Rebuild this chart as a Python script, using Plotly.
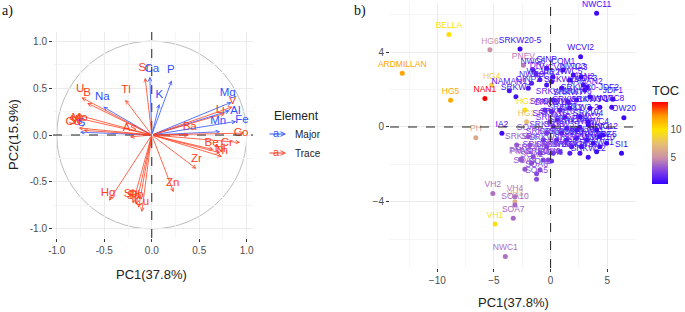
import plotly.graph_objects as go

# ---------------- Panel a: variable loadings ----------------
major_el = ["Ca", "P", "K", "Na", "Mg", "Al", "Fe", "Mn", "S"]
major_pc1 = [-0.02, 0.21, 0.08, -0.51, 0.84, 0.82, 0.89, 0.72, -0.755]
major_pc2 = [0.62, 0.58, 0.33, 0.30, 0.35, 0.26, 0.145, 0.035, 0.03]
major_lab_x = [0.00, 0.20, 0.08, -0.52, 0.80, 0.88, 0.95, 0.70, -0.74]
major_lab_y = [0.70, 0.69, 0.43, 0.40, 0.45, 0.25, 0.155, 0.145, 0.13]

trace_el = ["Sr", "Tl", "U", "B", "Mo", "Cd", "Se", "W", "As", "Li", "V", "Ba", "Co", "Cr",
            "Be", "Ni", "Th", "Zr", "Zn", "Hg", "Sb", "Pb", "Sn", "Cu"]
trace_pc1 = [-0.07, -0.28, -0.74, -0.68, -0.79, -0.82, -0.77, -0.72, -0.23, 0.77, 0.85, 0.39, 0.97, 0.93,
             0.65, 0.72, 0.74, 0.47, 0.23, -0.45, -0.20, -0.165, -0.14, -0.105]
trace_pc2 = [0.61, 0.375, 0.40, 0.34, 0.215, 0.19, 0.075, 0.05, -0.02, 0.23, 0.30, 0.0, 0.02, -0.08,
             -0.155, -0.19, -0.23, -0.36, -0.61, -0.70, -0.73, -0.74, -0.775, -0.82]
trace_lab_x = [-0.08, -0.27, -0.755, -0.68, -0.76, -0.83, -0.80, -0.79, -0.235, 0.72, 0.85, 0.40, 0.94, 0.79,
               0.63, 0.72, 0.73, 0.47, 0.22, -0.46, -0.22, -0.16, -0.19, -0.105]
trace_lab_y = [0.71, 0.48, 0.49, 0.45, 0.18, 0.14, 0.15, 0.16, 0.07, 0.26, 0.36, 0.08, 0.02, -0.09,
               -0.09, -0.155, -0.17, -0.26, -0.51, -0.62, -0.63, -0.64, -0.65, -0.72]

# ---------------- Panel b: individuals ----------------
site = ["NWC11", "BELLA", "HG6", "SRKW20-5", "WCVI2", "ARDMILLAN", "PNEV", "GINP", "COM1",
        "NWC6", "HG4", "NAMAN1", "SRKW3", "HG5", "NAN1", "HG2", "HG1", "IA2", "PH",
        "JDF1", "NWC8", "OW20", "SI1", "VH2", "VH4", "VH3", "SOA10", "SOA7", "VH1", "NWC1",
        "PMV1", "SOA4", "SOA5", "SOA6", "SRKV", "SRK", "SOA8",
        "GINP2", "NWC9", "DR", "WCVI3", "FCA", "PR2", "WCVI1", "SRKW19", "NWC5", "NWC3", "IA3",
        "NAN2", "NAMAN2", "JDF3", "SRKW20-JDF2", "SRKW7", "SRKW8", "SRKW3-1", "SRKW3-2", "SRKW4",
        "NWC7", "SRKW13", "SRKW9", "SRKW10", "SRKW11", "SRKW12", "SRKW14", "SRKW15", "SRKW16",
        "SRKW17", "SRKW18", "PR1", "NWC2", "NWC4", "JDF4", "JDF5", "SRKW21", "SRKW22", "SRKW23",
        "SRKW24", "SRKW25", "SOA3", "SRKW26", "SRKW27", "SRKW28", "SRKW29", "SRKW30", "SRKW31",
        "SRKW32", "SRKW33", "SRKW34", "SRKW35", "SRKW36", "SRKW37", "NWC10", "NWC12", "SRKW38",
        "SOA9", "SOA2", "SOA1", "PMV2", "SRKW39", "SRKW40", "SRKW41"]
pc1 = [4.06, -8.98, -5.36, -2.7, 2.65, -13.1, -2.4, -0.35, 1.1,
       -1.56, -5.2, -3.65, -3.06, -8.83, -5.8, -2.27, -2.12, -4.3, -6.6,
       5.5, 5.4, 6.47, 6.26, -5.1, -3.15, -3.15, -3.15, -3.3, -4.9, -4.0,
       -2.65, -0.21, -1.24, -1.24, -3.0, -1.83, -1.98,
       -1.98, -1.68, -1.3, -0.94, -0.35, 0.09, 0.2, 0.97, 1.7, 2.0, 2.7,
       2.88, 3.03, 3.23, 3.47, 1.55, 2.29, 3.47, 2.59, 3.32,
       4.35, 0.23, -0.5, 0.09, 0.82, 1.26, 1.7, -0.06, 0.58,
       0.23, 1.41, 2.59, 3.32, 4.06, 4.35, 4.94, 4.06, 3.32, 2.59,
       1.7, 0.82, 0.09, 0.23, -0.35, 0.53, 1.41, 2.29, 3.18,
       3.76, 1.85, 2.73, 0.97, -0.35, -0.65, 4.35, 4.64, 2.29,
       -2.27, -0.94, -1.68, -2.56, -0.94, -0.65, -1.53]
pc2 = [6.08, 4.94, 4.13, 4.17, 3.76, 2.87, 3.3, 3.14, 3.05,
       3.05, 2.25, 1.94, 1.62, 1.43, 1.53, 0.91, 0.28, -0.34, -0.57,
       1.48, 1.05, 0.5, -1.41, -3.55, -3.73, -4.0, -4.17, -4.88, -5.19, -6.93,
       -1.73, -1.76, -2.8, -2.5, -0.96, -0.96, -0.52,
       2.07, 2.34, 2.83, 2.52, 2.25, 2.42, 2.69, 2.07, 2.51, 2.78, 2.69,
       2.25, 1.98, 2.12, 1.62, 1.35, 1.44, 1.0, 0.55, 0.28,
       1.05, 1.44, 0.91, 0.82, 0.91, 0.55, 1.0, 0.28, 0.37,
       0.02, -0.07, -0.02, 0.11, -0.16, -0.52, -0.87, -1.32, -1.62, -1.41,
       -1.41, -1.32, -1.82, -1.41, -1.05, -0.7, -0.7, -0.61, -0.7,
       -0.87, -1.05, -1.05, -0.34, -0.34, -0.7, -1.05, -0.43, -0.16,
       -2.26, -2.3, -1.94, -1.76, -1.41, -1.76, -1.59]
toc = [0.6, 10.2, 5.0, 0.7, 0.8, 12.2, 4.3, 0.9, 0.8,
       1.5, 8.5, 1.0, 0.9, 12.0, 15.0, 9.8, 7.5, 0.6, 6.2,
       0.7, 0.8, 0.6, 0.5, 4.0, 4.2, 6.5, 3.8, 3.8, 9.6, 4.0,
       3.5, 2.5, 3.0, 2.8, 3.5, 3.2, 3.0,
       1.2, 1.5, 1.6, 1.3, 1.0, 0.9, 1.1, 0.8, 0.7, 0.8, 0.6,
       0.9, 0.8, 0.7, 0.7, 1.0, 0.9, 0.6, 0.7, 0.6,
       0.7, 1.4, 1.8, 1.6, 1.2, 1.0, 1.1, 2.0, 1.5,
       1.8, 1.2, 0.9, 0.8, 0.6, 0.7, 0.5, 0.7, 0.8, 1.0,
       1.3, 1.6, 2.0, 1.8, 2.3, 1.7, 1.4, 1.1, 0.9,
       0.8, 1.3, 1.0, 1.5, 2.2, 2.4, 0.7, 0.6, 1.1,
       3.2, 2.8, 3.0, 3.3, 2.6, 2.5, 2.9]
toc_ticks = [5, 10]

TOC_MIN, TOC_MAX = 0.3, 15.0
colorscale = [[0.0, "#3300FF"], [0.15, "#7F3FE6"], [0.32, "#CC90A8"], [0.49, "#E6C070"],
              [0.66, "#FFE500"], [0.83, "#FF9A00"], [1.0, "#FF0000"]]

BLUE = "#3050FF"
RED = "#FF4020"


def hex2rgb(h):
    h = h.lstrip("#")
    return tuple(int(h[i:i + 2], 16) for i in (0, 2, 4))


def scale_color(v):
    t = (v - TOC_MIN) / (TOC_MAX - TOC_MIN)
    t = min(max(t, 0.0), 1.0)
    for (p0, c0), (p1, c1) in zip(colorscale[:-1], colorscale[1:]):
        if p0 <= t <= p1:
            f = (t - p0) / (p1 - p0) if p1 > p0 else 0
            a, b = hex2rgb(c0), hex2rgb(c1)
            r = [round(a[i] + (b[i] - a[i]) * f) for i in range(3)]
            return "rgb(%d,%d,%d)" % tuple(r)
    return colorscale[-1][1]


W, H = 685, 312
fig = go.Figure()

# panel a text labels
fig.add_trace(go.Scatter(x=trace_lab_x, y=trace_lab_y, text=trace_el, mode="text",
                         textfont=dict(color=RED, size=11.5, family="Liberation Sans"),
                         showlegend=False, hoverinfo="skip", xaxis="x", yaxis="y"))
fig.add_trace(go.Scatter(x=major_lab_x, y=major_lab_y, text=major_el, mode="text",
                         textfont=dict(color=BLUE, size=11.5, family="Liberation Sans"),
                         showlegend=False, hoverinfo="skip", xaxis="x", yaxis="y"))

# panel b points
txt_colors = [scale_color(v) for v in toc]
fig.add_trace(go.Scatter(
    x=pc1, y=pc2, text=site, mode="markers+text", textposition="top center", cliponaxis=False,
    textfont=dict(color=txt_colors, size=8.5, family="Liberation Sans"),
    marker=dict(size=5, color=toc, colorscale=colorscale, cmin=TOC_MIN, cmax=TOC_MAX,
                line=dict(width=0),
                colorbar=dict(title=dict(text="TOC", side="top",
                                         font=dict(size=13, color="#222", family="Liberation Sans")),
                              x=652 / W, xanchor="left", y=(H - 184) / H, yanchor="bottom",
                              len=(184 - 82) / H, lenmode="fraction", thickness=16, xpad=0, ypad=0,
                              tickvals=toc_ticks, ticktext=[str(t) for t in toc_ticks],
                              ticks="", outlinewidth=0,
                              tickfont=dict(size=10, color="#4D4D4D", family="Liberation Sans"))),
    showlegend=False, hoverinfo="skip", xaxis="x2", yaxis="y2"))

annotations = []
# arrows panel a
for xs, ys, col in [(major_pc1, major_pc2, BLUE), (trace_pc1, trace_pc2, RED)]:
    for x, y in zip(xs, ys):
        annotations.append(dict(x=x, y=y, ax=0, ay=0, xref="x", yref="y", axref="x", ayref="y",
                                showarrow=True, arrowhead=5, arrowsize=0.9, arrowwidth=0.8,
                                arrowcolor=col, text=""))

# legend for panel a
annotations.append(dict(x=272 / W, y=(H - 116) / H, xref="paper", yref="paper", text="Element",
                        showarrow=False, xanchor="left", yanchor="middle",
                        font=dict(size=12, color="#222", family="Liberation Sans")))
for ypx, col, lab in [(134, BLUE, "Major"), (153, RED, "Trace")]:
    annotations.append(dict(x=286 / W, y=(H - ypx) / H, xref="paper", yref="paper",
                            ax=-18, ay=0, showarrow=True, arrowhead=5, arrowsize=0.9,
                            arrowwidth=1, arrowcolor=col, text=""))
    annotations.append(dict(x=276 / W, y=(H - ypx + 1) / H, xref="paper", yref="paper", text="a",
                            showarrow=False, xanchor="center", yanchor="middle",
                            font=dict(size=11, color=col, family="Liberation Sans")))
    annotations.append(dict(x=293 / W, y=(H - ypx) / H, xref="paper", yref="paper", text=lab,
                            showarrow=False, xanchor="left", yanchor="middle",
                            font=dict(size=10, color="#222", family="Liberation Sans")))

# axis titles & panel tags
annotations += [
    dict(x=151 / W, y=(H - 274) / H, xref="paper", yref="paper", text="PC1(37.8%)", showarrow=False,
         xanchor="center", yanchor="middle",
         font=dict(size=13, color="#222", family="Liberation Sans")),
    dict(x=13 / W, y=(H - 135) / H, xref="paper", yref="paper", text="PC2(15.9%)", showarrow=False,
         xanchor="center", yanchor="middle",
         textangle=-90, font=dict(size=13, color="#222", family="Liberation Sans")),
    dict(x=513 / W, y=(H - 302) / H, xref="paper", yref="paper", text="PC1(37.8%)", showarrow=False,
         xanchor="center", yanchor="middle",
         font=dict(size=13, color="#222", family="Liberation Sans")),
    dict(x=0, y=(H - 11) / H, xref="paper", yref="paper", text="a)", showarrow=False,
         xanchor="left", yanchor="middle", font=dict(size=14, color="#111", family="Liberation Serif")),
    dict(x=352 / W, y=(H - 11) / H, xref="paper", yref="paper", text="b)", showarrow=False,
         xanchor="left", yanchor="middle", font=dict(size=14, color="#111", family="Liberation Serif")),
]

shapes = [
    dict(type="circle", xref="x", yref="y", x0=-1, y0=-1, x1=1, y1=1,
         line=dict(color="#BDBDBD", width=1), layer="below"),
    dict(type="line", xref="x", yref="y", x0=0, x1=0, y0=-1.097, y1=1.097,
         line=dict(color="#222", width=1, dash="dash")),
    dict(type="line", xref="x", yref="y", x0=-1.04, x1=1.066, y0=0, y1=0,
         line=dict(color="#222", width=1, dash="dash")),
    dict(type="line", xref="x2", yref="y2", x0=0, x1=0, y0=-7.54, y1=6.63,
         line=dict(color="#222", width=1, dash="dash")),
    dict(type="line", xref="x2", yref="y2", x0=-14.18, x1=7.54, y0=0, y1=0,
         line=dict(color="#222", width=1, dash="dash")),
]

axis_common = dict(showgrid=True, gridcolor="#EBEBEB", gridwidth=1, zeroline=False,
                   ticks="outside", ticklen=3, tickcolor="#333", showline=False, automargin=False,
                   tickfont=dict(size=10, color="#4D4D4D", family="Liberation Sans"))

fig.update_layout(
    width=W, height=H, margin=dict(l=0, r=0, t=0, b=0, pad=0, autoexpand=False),
    paper_bgcolor="white", plot_bgcolor="white",
    xaxis=dict(domain=[53 / W, 253 / W], range=[-1.04, 1.066],
               tickvals=[-1, -0.5, 0, 0.5, 1], ticktext=["-1.0", "-0.5", "0.0", "0.5", "1.0"],
               minor=dict(tickvals=[-0.75, -0.25, 0.25, 0.75], showgrid=True, gridcolor="#F5F5F5", ticks=""),
               anchor="y", **axis_common),
    yaxis=dict(domain=[(H - 238) / H, (H - 32) / H], range=[-1.097, 1.097],
               tickvals=[-1, -0.5, 0, 0.5, 1], ticktext=["-1.0", "-0.5", "0.0", "0.5", "1.0"],
               minor=dict(tickvals=[-0.75, -0.25, 0.25, 0.75], showgrid=True, gridcolor="#F5F5F5", ticks=""),
               anchor="x", **axis_common),
    xaxis2=dict(domain=[390 / W, 636 / W], range=[-14.18, 7.54],
                tickvals=[-10, -5, 0, 5],
                minor=dict(tickvals=[-12.5, -7.5, -2.5, 2.5, 7.5], showgrid=True, gridcolor="#F5F5F5", ticks=""),
                anchor="y2", **axis_common),
    yaxis2=dict(domain=[(H - 268) / H, (H - 3) / H], range=[-7.54, 6.63],
                tickvals=[-4, 0, 4],
                minor=dict(tickvals=[-6, -2, 2, 6], showgrid=True, gridcolor="#F5F5F5", ticks=""),
                anchor="x2", **axis_common),
    annotations=annotations, shapes=shapes, showlegend=False,
)

fig.write_html("out.html", config={"displayModeBar": False},
               post_script="document.body.style.margin='0';document.body.style.padding='0';"
                           "document.body.style.overflow='hidden';")
